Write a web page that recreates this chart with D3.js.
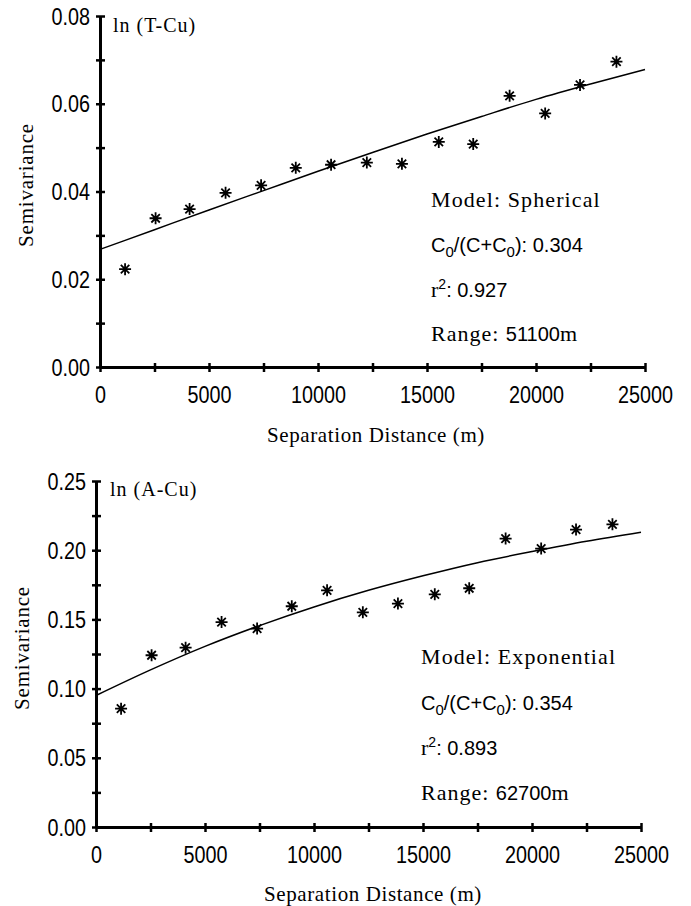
<!DOCTYPE html>
<html>
<head>
<meta charset="utf-8">
<script src="https://cdn.jsdelivr.net/npm/d3@7"></script>
<style>
  body { margin: 0; background: #fff; }
  svg { display: block; }
</style>
</head>
<body>
<script>
var lagDistance = [1150, 2550, 4110, 5760, 7390, 8980, 10600, 12240, 13850, 15540, 17120, 18790, 20420, 22020, 23690];
var tcuSemivariance = [0.0223, 0.0339, 0.0360, 0.0397, 0.0414, 0.0454, 0.0461, 0.0466, 0.0463, 0.0513, 0.0508, 0.0618, 0.0578, 0.0643, 0.0696];
var acuSemivariance = [0.0855, 0.1241, 0.1296, 0.1481, 0.1434, 0.1595, 0.1710, 0.1551, 0.1614, 0.1681, 0.1725, 0.2084, 0.2012, 0.2149, 0.2187];

// fitted model lines
var modelDistance = [0, 2500, 5000, 7500, 10000, 12500, 15000, 17500, 20000, 22500, 25000];
var tcuModel = [0.0268, 0.0313, 0.0358, 0.0402, 0.0446, 0.0489, 0.0531, 0.0571, 0.0610, 0.0645, 0.0678];
var acuModel = [0.0950, 0.1135, 0.1305, 0.1455, 0.1590, 0.1710, 0.1815, 0.1910, 0.1990, 0.2065, 0.2130];

// ticks
var xTicks = [0, 2500, 5000, 7500, 10000, 12500, 15000, 17500, 20000, 22500, 25000];
var xTickLabels = [0, 5000, 10000, 15000, 20000, 25000];
var tcuTicks = [0, 0.01, 0.02, 0.03, 0.04, 0.05, 0.06, 0.07, 0.08];
var tcuTickLabels = [0, 0.02, 0.04, 0.06, 0.08];
var acuTicks = [0, 0.025, 0.05, 0.075, 0.1, 0.125, 0.15, 0.175, 0.2, 0.225, 0.25];
var acuTickLabels = [0, 0.05, 0.1, 0.15, 0.2, 0.25];

// model stats: model name, nugget ratio, r2, range
var tcuStats = ["Spherical", "0.304", "0.927", "51100"];
var acuStats = ["Exponential", "0.354", "0.893", "62700"];

var SERIF = "'Liberation Serif', 'Times New Roman', serif";
var SANS = "'Liberation Sans', Arial, sans-serif";

var svg = d3.select("body").append("svg").attr("width", 691).attr("height", 906)
svg.append("rect").attr("width", 691).attr("height", 906).attr("fill", "#fff")

// 8 spoke star like the original marker
var star = {
  draw: function(ctx, size) {
    var r = Math.sqrt(size) / 2, d = r * Math.SQRT1_2;
    ctx.moveTo(0, -r); ctx.lineTo(0, r);
    ctx.moveTo(-r, 0); ctx.lineTo(r, 0);
    ctx.moveTo(-d, -d); ctx.lineTo(d, d);
    ctx.moveTo(-d, d); ctx.lineTo(d, -d);
  }
};

function drawPanel(p) {
  var x = d3.scaleLinear().domain([0, 25000]).range([p.left, p.right]);
  var y = d3.scaleLinear().domain([0, p.ymax]).range([p.bottom, p.top]);
  var g = svg.append("g");

  // model line
  g.append("path")
    .datum(modelDistance.map((d, i) => [d, p.model[i]]))
    .attr("fill", "none").attr("stroke", "#000").attr("stroke-width", 1.5)
    .attr("d", d3.line().x(d => x(d[0])).y(d => y(d[1])).curve(d3.curveMonotoneX));

  // points
  g.selectAll("path.pt")
    .data(lagDistance.map((d, i) => [d, p.values[i]]))
    .enter().append("path").attr("class", "pt")
    .attr("transform", d => "translate(" + x(d[0]) + "," + y(d[1]) + ")")
    .attr("d", d3.symbol().type(star).size(144))
    .attr("stroke", "#000").attr("stroke-width", 1.8).attr("fill", "none");

  // x axis
  var xa = g.append("g").attr("transform", "translate(0," + p.bottom + ")")
    .call(d3.axisBottom(x).tickValues(xTicks).tickSizeOuter(0)
      .tickFormat(d => xTickLabels.indexOf(d) >= 0 ? d : ""));
  // y axis
  var ya = g.append("g").attr("transform", "translate(" + p.left + ",0)")
    .call(d3.axisLeft(y).tickValues(p.ticks).tickSizeOuter(0)
      .tickFormat(d => p.tickLabels.some(v => Math.abs(v - d) < 1e-9) ? d3.format(".2f")(d) : ""));

  [xa, ya].forEach(a => {
    a.attr("font-family", SANS).attr("font-size", 23);
    a.select(".domain").attr("stroke-width", 3);
    a.selectAll(".tick line").attr("stroke-width", 2.5);
  });
  xa.selectAll(".tick line").attr("y1", -4).attr("y2", 5);
  xa.selectAll(".tick text").attr("y", 36).attr("dy", 0).attr("transform", "scale(0.86,1)");
  ya.selectAll(".tick line").attr("x1", 5).attr("x2", -4);
  ya.selectAll(".tick text").attr("x", -10 / 0.86).attr("dy", "0.35em").attr("transform", "scale(0.86,1)");

  // series name
  g.append("text").attr("x", p.titleX).attr("y", p.titleY).text(p.title)
    .attr("font-family", SERIF).attr("font-size", 20).attr("letter-spacing", 1);

  // axis titles
  g.append("text").attr("transform", "translate(" + p.yLabelX + "," + p.yLabelY + ") rotate(-90)")
    .attr("text-anchor", "middle").attr("dominant-baseline", "central")
    .attr("font-family", SERIF).attr("font-size", 21).attr("letter-spacing", 0.8)
    .text("Semivariance");
  g.append("text").attr("x", p.xLabelX).attr("y", p.xLabelY).attr("text-anchor", "middle")
    .attr("font-family", SERIF).attr("font-size", 21).attr("letter-spacing", 0.6)
    .text("Separation Distance (m)");

  // model stats
  var s = p.stats, ax = p.statX, by = p.statY;
  g.append("text").attr("x", ax).attr("y", by[0]).attr("font-family", SERIF)
    .attr("font-size", 22).attr("letter-spacing", 1.1)
    .text("Model: " + s[0]);

  var t2 = g.append("text").attr("x", ax).attr("y", by[1]).attr("font-family", SANS).attr("font-size", 20);
  t2.append("tspan").text("C");
  t2.append("tspan").attr("font-size", 15).attr("dy", 5).text("0");
  t2.append("tspan").attr("dy", -5).text("/(C+C");
  t2.append("tspan").attr("font-size", 15).attr("dy", 5).text("0");
  t2.append("tspan").attr("dy", -5).text("): " + s[1]);

  var t3 = g.append("text").attr("x", ax).attr("y", by[2]).attr("font-family", SANS).attr("font-size", 20);
  t3.append("tspan").attr("font-family", SERIF).attr("font-size", 22).text("r");
  t3.append("tspan").attr("font-size", 14).attr("dy", -8).text("2");
  t3.append("tspan").attr("dy", 8).text(": " + s[2]);

  var t4 = g.append("text").attr("x", ax).attr("y", by[3]).attr("font-family", SERIF).attr("font-size", 22).attr("letter-spacing", 1);
  t4.append("tspan").text("Range: ");
  t4.append("tspan").attr("font-family", SANS).attr("font-size", 20).attr("letter-spacing", 0).text(s[3]);
  t4.append("tspan").text("m");
}

drawPanel({
  left: 100, right: 645, top: 16, bottom: 367, ymax: 0.08,
  values: tcuSemivariance, model: tcuModel, ticks: tcuTicks, tickLabels: tcuTickLabels,
  title: "ln (T-Cu)", titleX: 113, titleY: 32,
  yLabelX: 26, yLabelY: 185, xLabelX: 376, xLabelY: 442,
  stats: tcuStats, statX: 431, statY: [206.5, 252, 296.5, 340.5]
});

drawPanel({
  left: 96, right: 641, top: 481, bottom: 827, ymax: 0.25,
  values: acuSemivariance, model: acuModel, ticks: acuTicks, tickLabels: acuTickLabels,
  title: "ln (A-Cu)", titleX: 110, titleY: 496,
  yLabelX: 22, yLabelY: 648, xLabelX: 373, xLabelY: 901,
  stats: acuStats, statX: 421, statY: [664, 710, 755, 800]
});
</script>
</body>
</html>
